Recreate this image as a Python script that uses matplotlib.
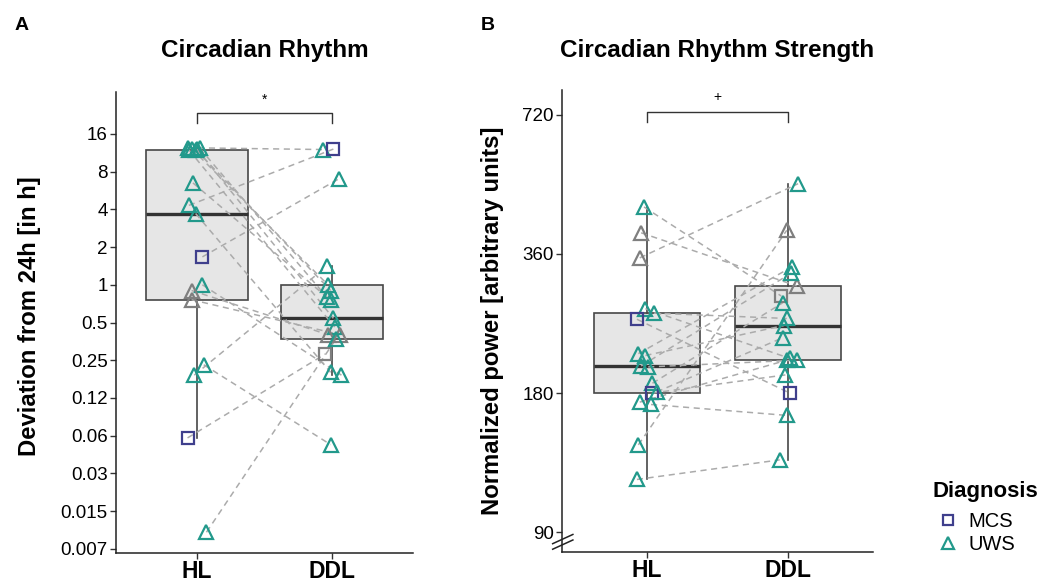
import numpy as np
import matplotlib
matplotlib.use("Agg")
import matplotlib.pyplot as plt
from matplotlib import cbook
from matplotlib.lines import Line2D

plt.rcParams['font.family'] = ['Liberation Sans', 'DejaVu Sans']

# panel A: deviation from 24h (hours), paired HL / DDL per subject
rhythm_hl = [12.4, 12.2, 12.0, 12.3, 12.1, 11.9, 6.5, 4.3, 3.7, 1.67, 1.0, 0.9, 0.76, 0.23, 0.19, 0.06, 0.0106]
rhythm_ddl = [12.0, 1.0, 0.9, 0.8, 0.54, 0.46, 0.75, 12.1, 0.2, 7.0, 0.19, 0.40, 0.40, 0.053, 1.4, 0.28, 0.37]
rhythm_grp_hl = ['UWS'] * 9 + ['MCS', 'UWS', 'gray', 'gray', 'UWS', 'UWS', 'MCS', 'UWS']
rhythm_grp_ddl = ['UWS'] * 7 + ['MCS', 'UWS', 'UWS', 'UWS', 'gray', 'gray', 'UWS', 'UWS', 'gray_sq', 'UWS']
rhythm_jit_hl = [-0.07, -0.04, -0.01, 0.02, 0.0, -0.06, -0.03, -0.06, -0.01, 0.04, 0.04, -0.04, -0.04, 0.05, -0.02, -0.07, 0.07]
rhythm_jit_ddl = [-0.07, -0.03, -0.01, -0.04, 0.01, 0.02, -0.01, 0.01, -0.01, 0.05, 0.07, -0.03, 0.06, -0.01, -0.04, -0.05, 0.03]

# panel B: normalized power, paired HL / DDL per subject
power_hl = [455, 400, 353, 274, 268, 260, 219, 217, 206, 205, 189, 180, 181, 172, 170, 139, 117]
power_ddl = [292, 307, 511, 214, 261, 180, 338, 252, 327, 212, 282, 197, 237, 212, 161, 405, 129]
power_grp_hl = ['UWS', 'gray', 'gray', 'UWS', 'UWS', 'MCS'] + ['UWS'] * 5 + ['MCS'] + ['UWS'] * 5
power_grp_ddl = ['gray_sq', 'gray', 'UWS', 'UWS', 'UWS', 'MCS'] + ['UWS'] * 9 + ['gray', 'UWS']
power_jit_hl = [-0.02, -0.04, -0.05, -0.01, 0.05, -0.07, -0.06, -0.01, -0.04, 0.01, 0.04, 0.04, 0.07, -0.05, 0.03, -0.06, -0.07]
power_jit_ddl = [-0.05, 0.06, 0.07, 0.01, -0.01, 0.01, 0.03, -0.03, 0.02, 0.06, -0.04, -0.02, -0.04, -0.01, -0.01, -0.01, -0.06]

conditions = ['HL', 'DDL']
rhythm_ticks = [2.0 ** k for k in range(-7, 5)]
rhythm_ticklabels = ['0.007', '0.015', '0.03', '0.06', '0.12', '0.25', '0.5', '1', '2', '4', '8', '16']
power_ticks = [90, 180, 360, 720]

MCS_COL = '#3F3F8C'
UWS_COL = '#22998B'
GRAY_COL = '#7F7F7F'
style = {
    'UWS': ('^', UWS_COL, 10),
    'MCS': ('s', MCS_COL, 8),
    'gray': ('^', GRAY_COL, 10),
    'gray_sq': ('s', GRAY_COL, 8),
}

fig = plt.figure(figsize=(10.39, 5.82), dpi=100)
axA = fig.add_axes([116 / 1039, 1 - 553 / 582, (413 - 116) / 1039, (553 - 92) / 582])
axB = fig.add_axes([562 / 1039, 1 - 552 / 582, (873 - 562) / 1039, (552 - 90) / 582])


def draw_panel(ax, hl, ddl, grp_hl, grp_ddl, jit_hl, jit_ddl):
    stats = []
    for vals in (hl, ddl):
        st = cbook.boxplot_stats(np.log2(vals), whis=1.5)[0]
        for k in ('med', 'q1', 'q3', 'whislo', 'whishi', 'mean'):
            st[k] = 2.0 ** st[k]
        st['fliers'] = []
        stats.append(st)
    ax.bxp(stats, positions=[1, 2], widths=0.75, showfliers=False, showcaps=False,
           patch_artist=True,
           boxprops=dict(facecolor='#E6E6E6', edgecolor='#474747', linewidth=1.2),
           whiskerprops=dict(color='#474747', linewidth=1.2),
           medianprops=dict(color='#333333', linewidth=2.4))
    x_hl = 1 + np.array(jit_hl)
    x_ddl = 2 + np.array(jit_ddl)
    for i in range(len(hl)):
        ax.plot([x_hl[i], x_ddl[i]], [hl[i], ddl[i]], color='#ABABAB', lw=1.1,
                dashes=(4, 3), zorder=3)
    for xs, ys, gs in ((x_hl, hl, grp_hl), (x_ddl, ddl, grp_ddl)):
        for x, y, g in zip(xs, ys, gs):
            m, c, s = style[g]
            ax.plot(x, y, marker=m, ms=s, mfc='none', mec=c, mew=1.6, ls='none', zorder=4)
    ax.set_yscale('log', base=2)
    ax.set_xlim(0.4, 2.6)
    ax.minorticks_off()
    for sp in ('top', 'right'):
        ax.spines[sp].set_visible(False)
    for sp in ('left', 'bottom'):
        ax.spines[sp].set_linewidth(1.1)
        ax.spines[sp].set_color('#222222')
    ax.tick_params(axis='both', length=4, width=1, color='#333333', labelsize=13.5, pad=2)
    ax.tick_params(axis='x', pad=1)
    ax.set_xticks([1, 2])
    ax.set_xticklabels(conditions, fontsize=16.5, fontweight='bold')


draw_panel(axA, rhythm_hl, rhythm_ddl, rhythm_grp_hl, rhythm_grp_ddl, rhythm_jit_hl, rhythm_jit_ddl)
axA.set_ylim(2 ** -7.11, 2 ** 5.11)
axA.set_yticks(rhythm_ticks)
axA.set_yticklabels(rhythm_ticklabels)
axA.minorticks_off()
axA.plot([1, 1, 2, 2], [19.6, 23.5, 23.5, 19.6], color='#333333', lw=1)
axA.text(1.5, 26.5, '*', ha='center', va='bottom', fontsize=10)

draw_panel(axB, power_hl, power_ddl, power_grp_hl, power_grp_ddl, power_jit_hl, power_jit_ddl)
axB.set_ylim(81.5, 815)
axB.set_yticks(power_ticks)
axB.set_yticklabels([str(t) for t in power_ticks])
axB.minorticks_off()
axB.plot([1, 1, 2, 2], [695, 731, 731, 695], color='#333333', lw=1)
axB.text(1.5, 760, '+', ha='center', va='bottom', fontsize=10)
# axis break marks on the y axis
for dy in (0.0, 0.012):
    axB.plot([-0.03, 0.035], [0.006 + dy, 0.026 + dy], transform=axB.transAxes,
             color='#222222', lw=1.1, clip_on=False)

fig.text(22 / 1039, 1 - 25 / 582, 'A', fontsize=14, fontweight='bold', ha='center', va='center')
fig.text(488 / 1039, 1 - 25 / 582, 'B', fontsize=14, fontweight='bold', ha='center', va='center')
fig.text(265 / 1039, 1 - 50 / 582, 'Circadian Rhythm', fontsize=17.5, fontweight='bold', ha='center', va='center')
fig.text(717 / 1039, 1 - 50 / 582, 'Circadian Rhythm Strength', fontsize=17.5, fontweight='bold', ha='center', va='center')
fig.text(30 / 1039, 1 - 316 / 582, 'Deviation from 24h [in h]', fontsize=17.2, fontweight='bold',
         rotation=90, ha='center', va='center')
fig.text(493 / 1039, 1 - 321 / 582, 'Normalized power [arbitrary units]', fontsize=17.2, fontweight='bold',
         rotation=90, ha='center', va='center')

# legend: title as text, entries below
fig.text(933 / 1039, 1 - 492 / 582, 'Diagnosis', fontsize=16, fontweight='bold', ha='left', va='center')
handles = [Line2D([], [], marker='s', ms=7, mfc='none', mec=MCS_COL, mew=1.6, ls='none'),
           Line2D([], [], marker='^', ms=9, mfc='none', mec=UWS_COL, mew=1.6, ls='none')]
leg = fig.legend(handles, ['MCS', 'UWS'], loc='upper left',
                 bbox_to_anchor=(938 / 1039, 1 - 512 / 582), frameon=False, fontsize=14.5,
                 handletextpad=0.5, labelspacing=0.2, handlelength=1.0,
                 borderaxespad=0, borderpad=0)

fig.savefig('out.png', dpi=100)
